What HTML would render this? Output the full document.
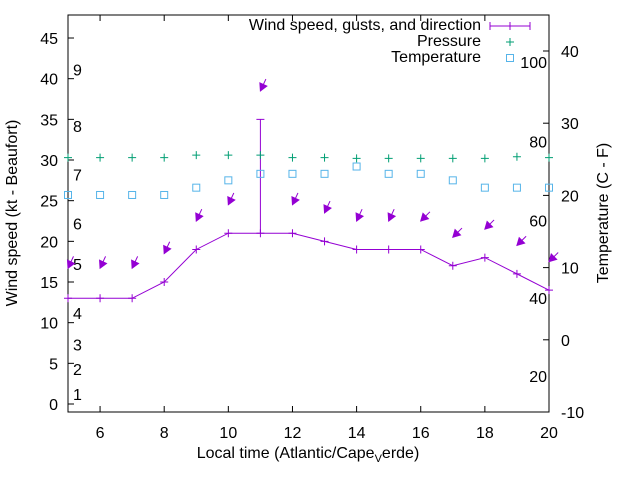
<!DOCTYPE html>
<html><head><meta charset="utf-8"><style>
body{margin:0;background:#fff}
svg text{font-family:"Liberation Sans",sans-serif;font-size:16px;fill:#000}
</style></head><body>
<svg id="c" width="640" height="480"></svg>
<script>
const hours=[5,6,7,8,9,10,11,12,13,14,15,16,17,18,19,20];
const windSpeed=[13,13,13,15,19,21,21,21,20,19,19,19,17,18,16,14];
const gustHour=[11];const gustValue=[35];
const arrowLevel=[16.7,16.7,16.7,18.5,22.5,24.5,38.5,24.5,23.5,22.5,22.5,22.5,20.5,21.5,19.5,17.5];
const arrowDir=[25,25,25,25,25,25,25,25,25,25,25,45,45,45,45,45];
const pressure=[30.3,30.3,30.3,30.3,30.6,30.6,30.6,30.3,30.3,30.2,30.2,30.2,30.2,30.2,30.4,30.3];
const temperature=[25.7,25.7,25.7,25.7,26.6,27.5,28.3,28.3,28.3,29.2,28.3,28.3,27.5,26.6,26.6,26.6];
const leftTicks=[0,5,10,15,20,25,30,35,40,45];
const xTicks=[6,8,10,12,14,16,18,20];
const rightTicks=[-10,0,10,20,30,40];
const beaufort=[[1,1.2],[2,4.3],[3,7.3],[4,11.2],[5,17.2],[6,22.2],[7,28.2],[8,34.2],[9,41.1]];
const fahr=[[20,-5],[40,5.8],[60,16.5],[80,27.5],[100,38.5]];
const L=68,R=549,T=15,B=412;
const xs=h=>L+(h-5)*(R-L)/15;
const ys=v=>404-v*8.133;
const yr=t=>B-(t+10)*7.22;
const svg=document.getElementById('c');const NS='http://www.w3.org/2000/svg';
function mk(tag,a,p){const e=document.createElementNS(NS,tag);for(const k in a)e.setAttribute(k,a[k]);(p||svg).appendChild(e);return e;}
const P='#9400d3',G='#009e73',BL='#56b4e9';
const fr=mk('rect',{x:L,y:T,width:R-L,height:B-T,fill:'none',stroke:'#000','stroke-width':1});

leftTicks.forEach(v=>{const y=ys(v);
 const t=mk('line',{x1:L,y1:y,x2:L+6,y2:y,stroke:'#000'});
 const l=mk('text',{x:L-10,y:y+6,'text-anchor':'end'});l.textContent=v;});
xTicks.forEach(v=>{const x=xs(v);
 const t=mk('line',{x1:x,y1:B,x2:x,y2:B-6,stroke:'#000'});
 const t2=mk('line',{x1:x,y1:T,x2:x,y2:T+6,stroke:'#000'});
 const l=mk('text',{x:x,y:B+26,'text-anchor':'middle'});l.textContent=v;});
rightTicks.forEach(v=>{const y=yr(v);
 const t=mk('line',{x1:R,y1:y,x2:R-6,y2:y,stroke:'#000'});
 const l=mk('text',{x:R+12,y:y+6,'text-anchor':'start'});l.textContent=v;});
beaufort.forEach(([n,v])=>{const l=mk('text',{x:73,y:ys(v)+6});l.textContent=n;});
fahr.forEach(([n,v])=>{const l=mk('text',{x:547,y:yr(v)+6,'text-anchor':'end'});l.textContent=n;});
const ln=mk('polyline',{points:hours.map((h,i)=>xs(h)+','+ys(windSpeed[i])).join(' '),fill:'none',stroke:P,'stroke-width':1});

hours.forEach((h,i)=>{const x=xs(h),y=ys(windSpeed[i]);
 const m=mk('path',{d:`M${x-4},${y}h8M${x},${y-4}v8`,stroke:P});});
gustHour.forEach((h,i)=>{const x=xs(h),hi=ys(gustValue[i]),lo=ys(windSpeed[hours.indexOf(h)]);
 const g=mk('path',{d:`M${x},${lo}V${hi}M${x-4},${hi}h8`,stroke:P});});
hours.forEach((h,i)=>{const x=xs(h),y=ys(arrowLevel[i]);const a=arrowDir[i]*Math.PI/180;
 const tx=x+13*Math.sin(a),ty=y-13*Math.cos(a);
 const ang=Math.atan2(y-ty,x-tx);const hl=8;
 const p1=[x-hl*Math.cos(ang-0.5),y-hl*Math.sin(ang-0.5)],p2=[x-hl*Math.cos(ang+0.5),y-hl*Math.sin(ang+0.5)];
 const g=mk('g',{});
 mk('line',{x1:tx,y1:ty,x2:x,y2:y,stroke:P},g);
 mk('polygon',{points:`${x},${y} ${p1} ${p2}`,fill:P,stroke:P},g);});
hours.forEach((h,i)=>{const x=xs(h),y=ys(pressure[i]);
 const m=mk('path',{d:`M${x-4},${y}h8M${x},${y-4}v8`,stroke:G});});
hours.forEach((h,i)=>{const x=xs(h),y=ys(temperature[i]);
 const m=mk('rect',{x:x-3.5,y:y-3.5,width:7,height:7,fill:'none',stroke:BL});});
const lg=[['Wind speed, gusts, and direction',24],['Pressure',40],['Temperature',56]];
lg.forEach(([t,y],i)=>{const l=mk('text',{x:481,y:y+6,'text-anchor':'end'});l.textContent=t;});
const l1=mk('path',{d:'M490,26h40M490,22v8M530,22v8M506,26h8M510,22v8',stroke:P});
const l2=mk('path',{d:'M506,42h8M510,38v8',stroke:G});
const l3=mk('rect',{x:506.5,y:54.5,width:7,height:7,fill:'none',stroke:BL});
const xt=mk('text',{x:308,y:458,'text-anchor':'middle'});xt.innerHTML='Local time (Atlantic/Cape<tspan font-size="11" dy="4">V</tspan><tspan dy="-4">erde)</tspan>';

const yt=mk('text',{x:0,y:0,transform:'translate(17,213) rotate(-90)','text-anchor':'middle'});yt.textContent='Wind speed (kt - Beaufort)';

const y2=mk('text',{x:0,y:0,transform:'translate(608,213) rotate(-90)','text-anchor':'middle'});y2.textContent='Temperature (C - F)';

</script>
</body></html>
